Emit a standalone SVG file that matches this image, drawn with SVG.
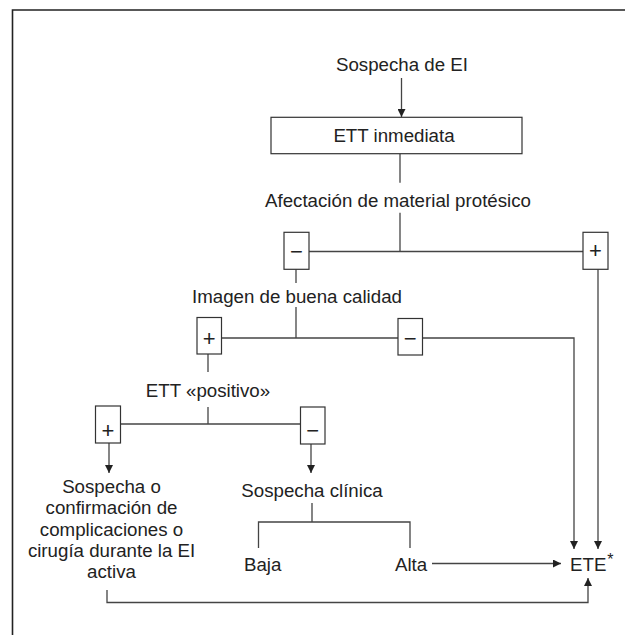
<svg xmlns="http://www.w3.org/2000/svg" width="625" height="635" viewBox="0 0 625 635">
<style>
text{font-family:"Liberation Sans",Arial,sans-serif;font-size:18.7px;fill:#222;}
.m{text-anchor:middle;}
.sg{font-size:22px;text-anchor:middle;}
.box{fill:#fff;stroke:#333;stroke-width:1.2;}
.c{fill:none;stroke:#444;stroke-width:1.3;}
</style>
<defs>
<marker id="ah" viewBox="0 0 10 10" refX="10" refY="5" markerUnits="userSpaceOnUse" markerWidth="10" markerHeight="8" orient="auto">
<path d="M0,0 L10,5 L0,10 Z" fill="#222"/>
</marker>
</defs>
<rect width="625" height="635" fill="#fff"/>
<g id="frame">
<path d="M12.5,635 V10 H625" fill="none" stroke="#222" stroke-width="1.6"/>
</g>
<g id="connectors">
<path class="c" d="M401.5,78 V117" marker-end="url(#ah)"/>
<path class="c" d="M400,153.7 V182.7"/>
<path class="c" d="M400,212.7 V251.5"/>
<path class="c" d="M309,251.5 H583"/>
<path class="c" d="M296,269.3 V283"/>
<path class="c" d="M296,307 V338"/>
<path class="c" d="M221.5,338 H398"/>
<path class="c" d="M422.5,338 H574 V549" marker-end="url(#ah)"/>
<path class="c" d="M598,269.3 V549" marker-end="url(#ah)"/>
<path class="c" d="M208,354 V372"/>
<path class="c" d="M208,407 V424"/>
<path class="c" d="M120.5,424 H300.5"/>
<path class="c" d="M109,443 V473" marker-end="url(#ah)"/>
<path class="c" d="M311,444 V473" marker-end="url(#ah)"/>
<path class="c" d="M312,503 V522 M258.5,548 V522 H410 V548"/>
<path class="c" d="M432,563.5 H561" marker-end="url(#ah)"/>
<path class="c" d="M107,590 V602.5 H588 V578" marker-end="url(#ah)"/>
</g>
<g id="n-sospecha-ei"><text class="m" x="402" y="70.5">Sospecha de EI</text></g>
<g id="n-ett-inmediata">
<rect class="box" x="271" y="117.3" width="251" height="36.4"/>
<text class="m" x="394" y="141.5">ETT inmediata</text>
</g>
<g id="n-afectacion"><text class="m" x="398" y="206.5">Afectación de material protésico</text></g>
<g id="n-afect-neg">
<rect class="box" x="284" y="232.3" width="25" height="37"/>
<text class="sg" x="296.5" y="259">−</text>
</g>
<g id="n-afect-pos">
<rect class="box" x="583" y="232.3" width="25" height="37"/>
<text class="sg" x="595.5" y="258">+</text>
</g>
<g id="n-imagen"><text class="m" x="297" y="303">Imagen de buena calidad</text></g>
<g id="n-imagen-pos">
<rect class="box" x="197" y="317.5" width="24.5" height="36.5"/>
<text class="sg" x="209.2" y="346">+</text>
</g>
<g id="n-imagen-neg">
<rect class="box" x="398" y="318.5" width="24.5" height="36.5"/>
<text class="sg" x="410.2" y="345.5">−</text>
</g>
<g id="n-ett-positivo"><text class="m" x="208" y="396.5">ETT «positivo»</text></g>
<g id="n-pos-pos">
<rect class="box" x="95.5" y="406" width="25" height="37"/>
<text class="sg" x="108" y="438">+</text>
</g>
<g id="n-pos-neg">
<rect class="box" x="300.5" y="407" width="24.5" height="37"/>
<text class="sg" x="312.7" y="438">−</text>
</g>
<g id="n-complicaciones">
<text class="m" x="111.5" y="493">Sospecha o</text>
<text class="m" x="111.5" y="514">confirmación de</text>
<text class="m" x="111.5" y="535.5">complicaciones o</text>
<text class="m" x="111.5" y="556.5">cirugía durante la EI</text>
<text class="m" x="111.5" y="577.5">activa</text>
</g>
<g id="n-sospecha-clinica"><text class="m" x="312" y="496.5">Sospecha clínica</text></g>
<g id="n-baja"><text x="244" y="570.5">Baja</text></g>
<g id="n-alta"><text x="395" y="570.5">Alta</text></g>
<g id="n-ete"><text x="570" y="570.5">ETE<tspan font-size="16" dx="1" dy="-6">*</tspan></text></g>
</svg>
